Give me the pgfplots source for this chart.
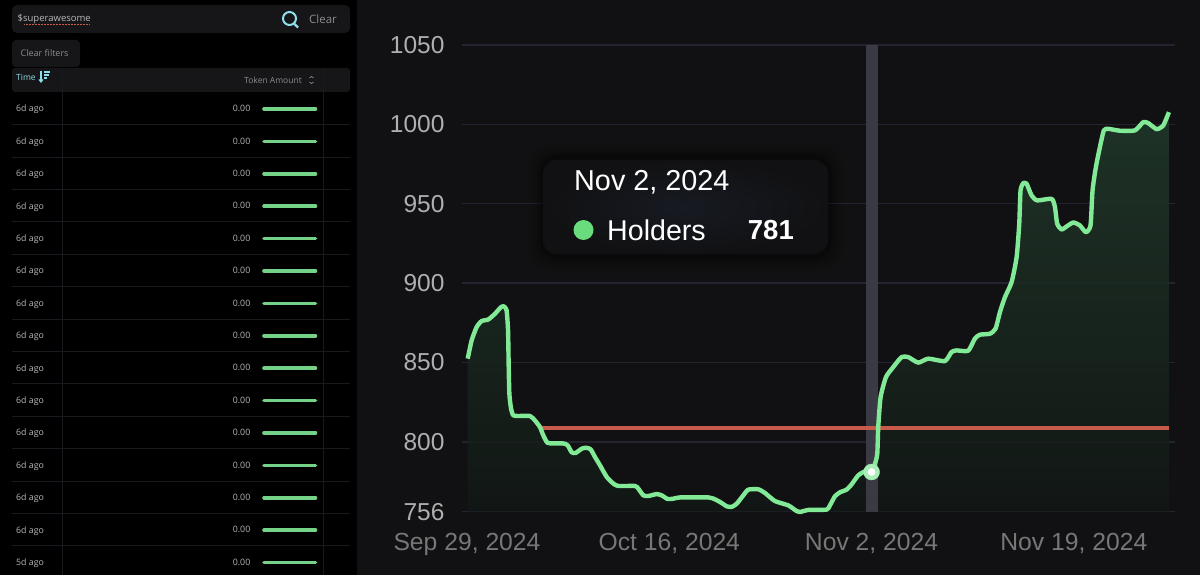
\documentclass[border=0pt]{standalone}
\usepackage{fontspec}
\setmainfont{Liberation Sans}
\newfontfamily\ui{Open Sans}[FontFace={m}{n}{Font=* Semibold}]
\usepackage{pgfplots}
\usepackage{pgfplotstable}
\pgfplotsset{compat=1.18}
\definecolor{pagebg}{HTML}{000000}
\definecolor{chartbg}{HTML}{111113}
\definecolor{linegreen}{HTML}{82EA96}
\definecolor{gridc}{HTML}{242431}
\definecolor{redl}{HTML}{C95B4C}
\definecolor{bandc}{HTML}{3A3A44}
\definecolor{uitext}{HTML}{B8B8B8}
\definecolor{uidim}{HTML}{8C8C8C}
\definecolor{uibox}{HTML}{161618}
\definecolor{uiline}{HTML}{191A20}
\definecolor{cyanui}{HTML}{8FDCEB}
\definecolor{HTMLtip}{HTML}{171A22}
\definecolor{HTMLdot}{HTML}{69DC7E}
\definecolor{areatop}{HTML}{21392B}
\definecolor{areabot}{HTML}{121815}
\definecolor{markouter}{HTML}{A6EEB6}
\pgfplotstableread{
day val
0.06 852.4
0.39 863.9
0.81 872.3
1.23 876.1
1.79 877.1
2.35 880.7
2.86 884.9
3.11 885.3
3.33 882.8
3.45 870.2
3.50 849.2
3.56 830.3
3.70 820.9
3.89 816.7
4.31 816.3
5.29 816.3
5.71 813.5
6.13 809.3
6.41 804.1
6.75 799.5
7.25 799
8.10 799
8.46 797.8
8.80 793.4
9.13 793
9.64 795.7
10.0 796.3
10.39 795.3
10.76 790.4
11.18 785.2
11.74 777.9
12.3 773.7
12.72 772.2
14.12 772.2
14.4 770.5
14.82 766.3
15.24 765.9
15.94 767.1
16.36 766.3
16.86 764
17.34 764.2
17.9 765
20.28 765
20.84 763.8
21.4 761.5
21.82 759.4
22.24 759
22.66 761
23.22 766.3
23.64 769.9
24.48 770.1
25.04 767.8
25.88 762.7
27.0 760
27.7 756.4
27.98 755.8
28.68 757.1
30.22 757.3
30.5 760
30.92 765.7
31.34 768.2
31.9 769.9
32.32 773.2
32.88 778.9
33.44 781.4
33.98 781
34.29 786.3
34.48 792.5
34.56 809.3
34.76 828.2
35.21 840.8
35.82 847.1
36.52 853.4
37.08 853.4
37.92 849.9
38.76 852.4
40.16 850.9
40.72 856.6
41.14 857.6
42.12 857.4
42.68 865
43.1 867.5
43.94 868.1
44.42 871.3
44.79 881.8
45.21 891.2
45.77 900.7
46.19 916.4
46.41 937.4
46.52 958.4
46.75 963
47.03 962.6
47.45 955.2
47.92 952.1
49.13 953.1
49.41 947.9
49.6 937.4
49.97 933.8
50.39 935.7
50.95 938.2
51.51 936.3
52.01 932.1
52.4 936.3
52.57 958.4
52.85 973.1
53.19 985.7
53.52 996.2
53.89 997.2
54.87 996
56.13 996.2
56.83 1001.4
57.25 1000.8
57.95 997
58.51 999.3
58.99 1007.7
}\holders
\begin{document}
\begin{tikzpicture}[x=1pt,y=1pt]
\useasboundingbox (0,0) rectangle (1200,-575);
\fill[pagebg] (0,0) rectangle (1200,-575);
\fill[chartbg] (357,0) rectangle (1200,-575);
% search box
\fill[uibox,rounded corners=5pt] (12,-5) rectangle (350,-33);
\node[anchor=west,inner sep=0,font=\ui\fontsize{9.5}{11}\selectfont,text=uitext] at (17.5,-19.5) {\$superawesome};
\draw[redl,densely dotted,line width=.5pt] (24,-24) -- (90,-24);
\draw[cyanui,line width=2pt] (289.5,-18.5) circle (6.5);
\draw[cyanui,line width=2.2pt] (294,-23.5) -- (298,-27.5);
\node[anchor=west,inner sep=0,font=\ui\fontsize{11.5}{13}\selectfont,text=uidim] at (309,-19.5) {Clear};
% filter tab
\fill[uibox,rounded corners=4pt] (12,-40) rectangle (80,-67);
\node[anchor=west,inner sep=0,font=\ui\fontsize{9}{11}\selectfont,text=uidim] at (20.5,-53.5) {Clear filters};
% header
\fill[uibox,rounded corners=3pt] (12,-68) rectangle (350,-92);
\node[anchor=west,inner sep=0,font=\ui\fontsize{8.5}{10}\selectfont,text=cyanui] at (16,-77.5) {Time};
\draw[cyanui,line width=1.1pt] (41,-71.5) -- (41,-82);
\draw[cyanui,line width=1.1pt] (39,-79.5) -- (41,-82) -- (43,-79.5);
\draw[cyanui,line width=1.1pt] (44,-72) -- (50,-72) (44,-75) -- (49,-75) (44,-78) -- (47,-78);
\node[anchor=east,inner sep=0,font=\ui\fontsize{8.5}{10}\selectfont,text=uidim] at (302,-80) {Token Amount};
\draw[uidim,line width=.7pt] (309.5,-78) -- (311.5,-76.5) -- (313.5,-78) (309.5,-82) -- (311.5,-83.5) -- (313.5,-82);
\draw[uiline,line width=.6pt] (62.3,-68) -- (62.3,-575) (323.3,-68) -- (323.3,-575);
% rows
\foreach \yy/\lab in {109/6d,141.4/6d,173.8/6d,206.2/6d,238.6/6d,271/6d,303.4/6d,335.8/6d,368.2/6d,400.6/6d,433/6d,465.4/6d,497.8/6d,530.2/6d,562.6/5d}{
  \node[anchor=west,inner sep=0,font=\ui\fontsize{8.8}{10}\selectfont,text=uitext] at (16,-\yy-.7) {\lab{} ago};
  \node[anchor=east,inner sep=0,font=\ui\fontsize{8.8}{10}\selectfont,text=uitext] at (250.5,-\yy+.4) {0.00};
  \draw[linegreen!90!black,line width=3.6pt,line cap=round] (264,-\yy) -- (315.5,-\yy);
  \draw[uiline,line width=.6pt] (12,-\yy-15.5) -- (350,-\yy-15.5);
}
% chart
\begin{axis}[
  at={(462pt,-511.7pt)},anchor=south west,scale only axis,
  width=713pt,height=466.7pt,
  xmin=-0.42,xmax=59.5,ymin=756,ymax=1050,
  clip=false,
  axis line style={draw=none},
  major tick length=0pt,
  ymajorgrids,
  major grid style={draw=gridc,line width=1.5pt},
  xtick={0,17,34,51},
  xticklabels={{Sep 29, 2024},{Oct 16, 2024},{Nov 2, 2024},{Nov 19, 2024}},
  ytick={756,800,850,900,950,1000,1050},
  yticklabels={756,800,850,900,950,1000,1050},
  xticklabel style={font=\fontsize{24.7}{28}\selectfont,text=uidim!85!black,yshift=-18pt},
  yticklabel style={font=\fontsize{24.5}{28}\selectfont,text=uitext!95!black,xshift=-14pt},
]
\addplot[draw=none,shade,top color=areatop,bottom color=areabot,fill opacity=.85,smooth,tension=.35] table[x=day,y=val] {\holders} \closedcycle;
\addplot[bandc,line width=12pt,forget plot] coordinates {(34,756) (34,1050)};
\addplot[redl,line width=4pt] coordinates {(6.3,809) (59,809)};
\addplot[linegreen,line width=4.4pt,smooth,tension=.35,line join=round] table[x=day,y=val] {\holders};
\addplot[only marks,mark=*,mark size=8pt,mark options={draw=markouter,fill=markouter}] coordinates {(34,781)};
\addplot[only marks,mark=*,mark size=3.6pt,mark options={draw=white,fill=white}] coordinates {(34,781)};
\end{axis}
% tooltip
\foreach \g/\o in {14/.06,10/.08,6/.12,3/.18}{
  \fill[black,opacity=\o,rounded corners=18pt] (543-\g,-158+\g) rectangle (829+\g,-256-\g);
}
\shade[rounded corners=14pt,inner color=HTMLtip,outer color=chartbg] (543,-160) rectangle (828,-254);
\node[anchor=west,inner sep=0,text=white,font=\fontsize{28.8}{32}\selectfont] at (574,-182) {Nov 2, 2024};
\fill[HTMLdot] (583.5,-230) circle (10);
\node[anchor=west,inner sep=0,text=white,font=\fontsize{28.6}{32}\selectfont] at (607,-230.5) {Holders};
\node[anchor=east,inner sep=0,text=white,font=\bfseries\fontsize{27.5}{32}\selectfont] at (794,-230.5) {781};
\end{tikzpicture}
\end{document}
